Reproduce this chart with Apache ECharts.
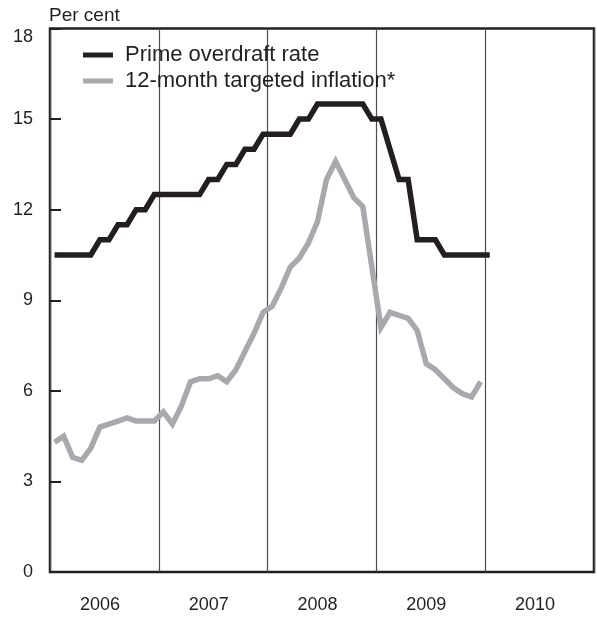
<!DOCTYPE html>
<html>
<head>
<meta charset="utf-8">
<script src="https://cdn.jsdelivr.net/npm/echarts@6/dist/echarts.min.js"></script>
<style>html,body{margin:0;padding:0;background:#fff;}#c{width:597px;height:618px;}</style>
</head>
<body>
<div id="c"></div>
<script>
// Monthly data, Jan 2006 onwards (per cent)
const years = ['2006', '2007', '2008', '2009', '2010'];
const yTicks = [0, 3, 6, 9, 12, 15, 18];
// Prime overdraft rate, Jan 2006 - Jan 2010
const primeRate = [
  10.5, 10.5, 10.5, 10.5, 10.5, 11, 11, 11.5, 11.5, 12, 12, 12.5,
  12.5, 12.5, 12.5, 12.5, 12.5, 13, 13, 13.5, 13.5, 14, 14, 14.5,
  14.5, 14.5, 14.5, 15, 15, 15.5, 15.5, 15.5, 15.5, 15.5, 15.5, 15,
  15, 14, 13, 13, 11, 11, 11, 10.5, 10.5, 10.5, 10.5, 10.5,
  10.5
];
// 12-month targeted inflation, Jan 2006 - Dec 2009
const targetedInflation = [
  4.3, 4.5, 3.8, 3.7, 4.1, 4.8, 4.9, 5.0, 5.1, 5.0, 5.0, 5.0,
  5.3, 4.9, 5.5, 6.3, 6.4, 6.4, 6.5, 6.3, 6.7, 7.3, 7.9, 8.6,
  8.8, 9.4, 10.1, 10.4, 10.9, 11.6, 13.0, 13.6, 13.0, 12.4, 12.1, 10.1,
  8.1, 8.6, 8.5, 8.4, 8.0, 6.9, 6.7, 6.4, 6.1, 5.9, 5.8, 6.3
];
const seriesNames = ['Prime overdraft rate', '12-month targeted inflation*'];

// month index -> mid-month position on a month-count axis
const toPoints = arr => arr.map((v, i) => [i + 0.5, v]);

const ink = '#231f20';
const grey = '#a7a9ac';
const font = 'Liberation Sans, Arial, Helvetica, sans-serif';

const chart = echarts.init(document.getElementById('c'), null, {renderer: 'canvas'});
chart.setOption({
  animation: false,
  backgroundColor: '#fff',
  title: {
    text: 'Per cent', left: 44, top: 1,
    textStyle: {fontFamily: font, fontSize: 19, fontWeight: 'normal', color: ink}
  },
  legend: {
    orient: 'vertical', left: 78, top: 39, itemGap: 4,
    itemWidth: 30, itemHeight: 5, icon: 'rect',
    data: seriesNames,
    textStyle: {fontFamily: font, fontSize: 22, color: ink, padding: [0, 0, 0, 7]}
  },
  grid: {
    left: 50, right: 3, top: 28.5, bottom: 46,
    show: true, borderColor: ink, borderWidth: 2.5, backgroundColor: 'transparent'
  },
  xAxis: [
    {
      type: 'value', min: 0, max: years.length * 12, interval: 12,
      axisLine: {show: false}, axisTick: {show: false}, axisLabel: {show: false},
      splitLine: {show: true, lineStyle: {color: '#4d4d4f', width: 1.2}}
    },
    {
      type: 'category', data: years, position: 'bottom', boundaryGap: true,
      axisLine: {show: false}, axisTick: {show: false}, splitLine: {show: false},
      axisLabel: {margin: 24, fontFamily: font, fontSize: 18, color: ink, padding: [0, 9, 0, 0]}
    }
  ],
  yAxis: {
    type: 'value', min: yTicks[0], max: yTicks[yTicks.length - 1], interval: 3,
    axisLine: {show: false},
    axisTick: {show: true, inside: true, length: 11, lineStyle: {color: ink, width: 2}},
    splitLine: {show: false},
    axisLabel: {margin: 17, fontFamily: font, fontSize: 18, color: ink, verticalAlignMaxLabel: 'top'}
  },
  series: [
    {
      name: seriesNames[0], type: 'line', xAxisIndex: 0, data: toPoints(primeRate),
      showSymbol: false, symbol: 'none', z: 3,
      itemStyle: {color: ink},
      lineStyle: {color: ink, width: 5.5, join: 'miter', cap: 'butt'}
    },
    {
      name: seriesNames[1], type: 'line', xAxisIndex: 0, data: toPoints(targetedInflation),
      showSymbol: false, symbol: 'none', z: 2,
      itemStyle: {color: grey},
      lineStyle: {color: grey, width: 5.5, join: 'miter', cap: 'butt'}
    }
  ]
});
</script>
</body>
</html>
